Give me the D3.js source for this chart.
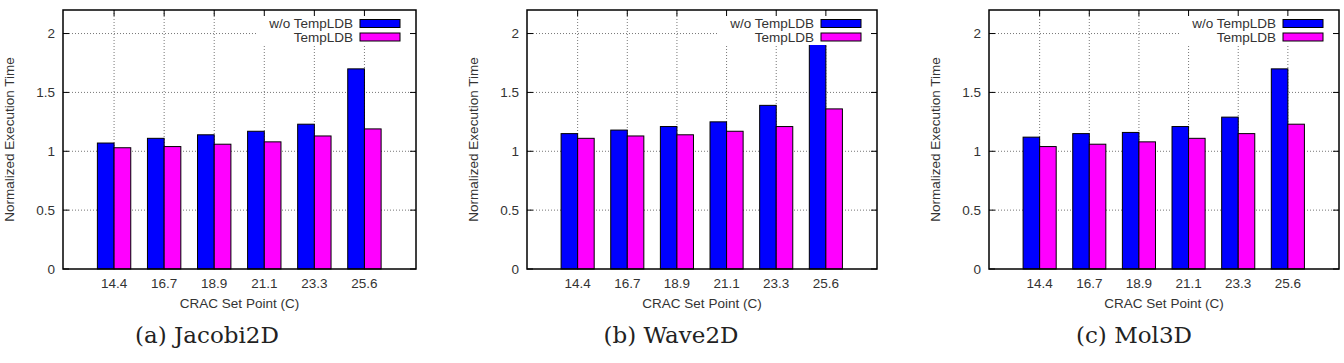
<!DOCTYPE html>
<html>
<head>
<meta charset="utf-8">
<script src="https://cdn.jsdelivr.net/npm/d3@7"></script>
<style>
  body { margin: 0; background: #fff; }
  svg { display: block; }
  .tick-txt, .axis-title, .key-txt { font-family: "Liberation Sans", Arial, sans-serif; font-size: 13.5px; fill: #333; }
  .caption { font-family: "DejaVu Serif", serif; font-size: 23px; fill: #222; }
</style>
</head>
<body>
<svg id="fig" width="1344" height="363"></svg>
<script>
const setPoints = ['14.4', '16.7', '18.9', '21.1', '23.3', '25.6'];
const seriesNames = ['w/o TempLDB', 'TempLDB'];
const seriesColors = ['#0000ff', '#ff00ff'];
const yTicks = [0, 0.5, 1, 1.5, 2];

const jacobiBase = [1.07, 1.11, 1.14, 1.17, 1.23, 1.70];
const jacobiLdb  = [1.03, 1.04, 1.06, 1.08, 1.13, 1.19];
const waveBase   = [1.15, 1.18, 1.21, 1.25, 1.39, 1.91];
const waveLdb    = [1.11, 1.13, 1.14, 1.17, 1.21, 1.36];
const molBase    = [1.12, 1.15, 1.16, 1.21, 1.29, 1.70];
const molLdb     = [1.04, 1.06, 1.08, 1.11, 1.15, 1.23];

const panels = [
  {caption: '(a) Jacobi2D', series: [jacobiBase, jacobiLdb], left: 63,  right: 416,  capX: 207},
  {caption: '(b) Wave2D',   series: [waveBase, waveLdb],     left: 527, right: 877,  capX: 671},
  {caption: '(c) Mol3D',    series: [molBase, molLdb],       left: 989, right: 1339, capX: 1134}
];

const svg = d3.select('#fig');
const plotTop = 10, plotBottom = 269, tickLen = 6, barW = 1 / 3;

const drawPanel = p => {
  let
    g = svg.append('g'),
    x = d3.scaleLinear().domain([-1.02, 6.03]).range([p.left, p.right]),
    y = d3.scaleLinear().domain([0, 2.2]).range([plotBottom, plotTop]),
    idx = d3.range(setPoints.length)
    ;

  // dotted grid behind the bars
  g.selectAll('line.gy').data(yTicks.filter(v => v > 0)).join('line')
    .attr('x1', p.left).attr('x2', p.right)
    .attr('y1', d => y(d)).attr('y2', d => y(d))
    .attr('stroke', '#777').attr('stroke-width', 1).attr('stroke-dasharray', '1,2');
  g.selectAll('line.gx').data(idx).join('line')
    .attr('x1', d => x(d)).attr('x2', d => x(d))
    .attr('y1', plotTop).attr('y2', plotBottom)
    .attr('stroke', '#777').attr('stroke-width', 1).attr('stroke-dasharray', '1,2');

  // bars: first series left of the tick, second right of it
  p.series.forEach((vals, s) => {
    g.append('g').selectAll('rect').data(vals).join('rect')
      .attr('x', (d, i) => x(i - barW + s * barW))
      .attr('width', x(barW) - x(0))
      .attr('y', d => y(d))
      .attr('height', d => y(0) - y(d))
      .attr('fill', seriesColors[s])
      .attr('stroke', '#000').attr('stroke-width', 1);
  });

  // opaque key box
  g.append('rect')
    .attr('x', p.right - 160).attr('y', plotTop + 1)
    .attr('width', 159).attr('height', 34)
    .attr('fill', '#fff');
  seriesNames.forEach((name, s) => {
    let ky = 19.5 + s * 13.5;
    g.append('rect')
      .attr('x', p.right - 56).attr('y', ky)
      .attr('width', 40).attr('height', 8)
      .attr('fill', seriesColors[s])
      .attr('stroke', '#000').attr('stroke-width', 1);
    g.append('text').attr('class', 'key-txt')
      .attr('x', p.right - 63).attr('y', ky + 8.5)
      .attr('text-anchor', 'end')
      .text(name);
  });

  // frame and inward ticks on all sides
  g.append('rect')
    .attr('x', p.left).attr('y', plotTop)
    .attr('width', p.right - p.left).attr('height', plotBottom - plotTop)
    .attr('fill', 'none').attr('stroke', '#000').attr('stroke-width', 1.5);
  yTicks.forEach(v => {
    g.append('line').attr('x1', p.left).attr('x2', p.left + tickLen)
      .attr('y1', y(v)).attr('y2', y(v)).attr('stroke', '#000');
    g.append('line').attr('x1', p.right).attr('x2', p.right - tickLen)
      .attr('y1', y(v)).attr('y2', y(v)).attr('stroke', '#000');
  });
  idx.forEach(i => {
    g.append('line').attr('x1', x(i)).attr('x2', x(i))
      .attr('y1', plotTop).attr('y2', plotTop + tickLen).attr('stroke', '#000');
  });

  // labels
  g.selectAll('text.yl').data(yTicks).join('text')
    .attr('class', 'tick-txt')
    .attr('x', p.left - 8).attr('y', d => y(d))
    .attr('dy', '0.35em').attr('text-anchor', 'end')
    .text(d => d);
  g.selectAll('text.xl').data(idx).join('text')
    .attr('class', 'tick-txt')
    .attr('x', d => x(d)).attr('y', 288)
    .attr('text-anchor', 'middle')
    .text(d => setPoints[d]);
  g.append('text').attr('class', 'axis-title')
    .attr('x', (p.left + p.right) / 2).attr('y', 307.5)
    .attr('text-anchor', 'middle')
    .text('CRAC Set Point (C)');
  g.append('text').attr('class', 'axis-title')
    .attr('transform', `translate(${p.left - 49},${(plotTop + plotBottom) / 2}) rotate(-90)`)
    .attr('text-anchor', 'middle')
    .text('Normalized Execution Time');
  g.append('text').attr('class', 'caption')
    .attr('x', p.capX).attr('y', 343)
    .attr('text-anchor', 'middle')
    .text(p.caption);
};

panels.forEach(drawPanel);
</script>
</body>
</html>
